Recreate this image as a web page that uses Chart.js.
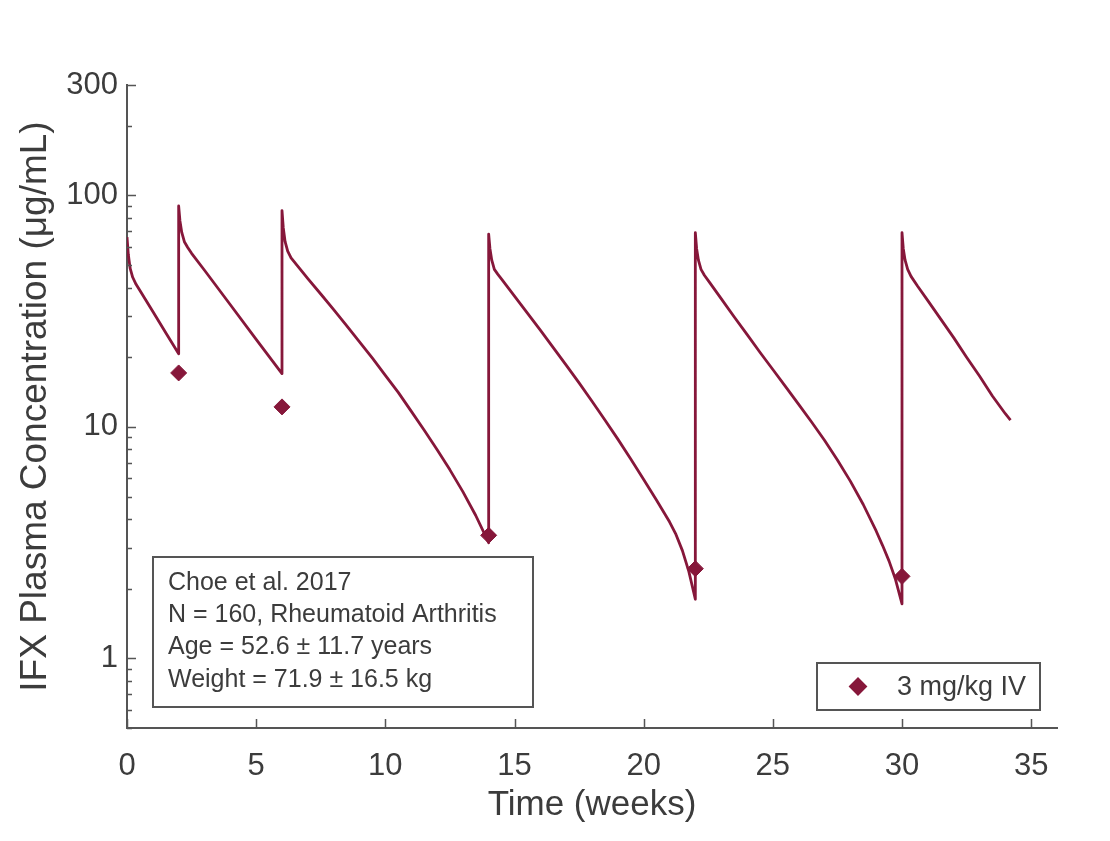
<!DOCTYPE html>
<html>
<head>
<meta charset="utf-8">
<script src="https://cdn.jsdelivr.net/npm/chart.js@4.4.1/dist/chart.umd.min.js"></script>
<style>
  body { margin: 0; background: #fff; }
  #chart { display: block; }
</style>
</head>
<body>
<canvas id="chart" width="1110" height="841"></canvas>
<script>
// model curve (weeks, ug/mL)
const curveWeeks = [0, 0.05, 0.12, 0.22, 0.35, 0.5, 1, 1.5, 2,
    2, 2.05, 2.12, 2.22, 2.35, 2.5, 3, 4, 5, 6,
    6, 6.05, 6.12, 6.22, 6.35, 6.6, 7, 7.5, 8, 8.5, 9, 9.5, 10, 10.5, 11, 11.5, 12, 12.5, 13, 13.5, 14,
    14, 14.05, 14.12, 14.22, 14.35, 14.5, 15, 15.5, 16, 16.5, 17, 17.5, 18, 18.5, 19, 19.5, 20, 20.5, 21, 21.25, 21.5, 21.75, 22,
    22, 22.05, 22.12, 22.22, 22.35, 22.55, 23, 23.5, 24, 24.5, 25, 25.5, 26, 26.5, 27, 27.5, 28, 28.5, 29, 29.25, 29.5, 29.75, 30,
    30, 30.05, 30.12, 30.22, 30.35, 30.6, 31, 31.5, 32, 32.5, 33, 33.5, 34, 34.2];
const curveConc = [66, 55.7, 48.5, 44.3, 41.3, 38.8, 31.5, 25.5, 20.7,
    90, 77.6, 69.2, 63.1, 59.6, 56.2, 47.5, 33.7, 23.9, 17,
    86, 72.4, 63.1, 57.5, 53.7, 49.6, 43.7, 37.5, 32.1, 27.4, 23.3, 19.8, 16.7, 14.1, 11.7, 9.7, 7.98, 6.52, 5.25, 4.14, 3.16,
    68, 58.9, 52.5, 47.9, 45.7, 43.5, 36.7, 31.0, 26.2, 22.0, 18.5, 15.5, 12.9, 10.7, 8.85, 7.26, 5.92, 4.82, 3.89, 3.43, 2.92, 2.37, 1.8,
    69, 58.9, 52.5, 47.9, 45.2, 42.1, 35.8, 29.9, 25.1, 21.0, 17.7, 14.9, 12.5, 10.5, 8.75, 7.19, 5.83, 4.62, 3.55, 3.07, 2.63, 2.19, 1.72,
    69, 58.9, 52.5, 47.9, 44.7, 40.6, 35.1, 29.2, 24.3, 20.0, 16.6, 13.6, 11.4, 10.7];

// observed troughs
const doseWeeks = [2, 6, 14, 22, 30];
const troughConc = [17.1, 12.2, 3.4, 2.44, 2.26];

const xTicks = [0, 5, 10, 15, 20, 25, 30, 35];
const yTickValues = [0.5, 0.6, 0.7, 0.8, 0.9, 1, 2, 3, 4, 5, 6, 7, 8, 9, 10,
    20, 30, 40, 50, 60, 70, 80, 90, 100, 200, 300];
const yTickLabels = [1, 10, 100, 300];

const infoLines = ['Choe et al. 2017', 'N = 160, Rheumatoid Arthritis',
    'Age = 52.6 \u00b1 11.7 years', 'Weight = 71.9 \u00b1 16.5 kg'];
const legendText = '3 mg/kg IV';

const red = '#86173a';
const axisColor = '#555';
const textColor = '#3c3c3c';
const family = '"Liberation Sans", Arial, Helvetica, sans-serif';

// matlab style ticks, pointing inward
const innerTicks = {
    id: 'innerTicks',
    afterDraw(chart) {
        const { ctx, chartArea, scales } = chart;
        ctx.save();
        ctx.strokeStyle = axisColor;
        ctx.lineWidth = 1.5;
        ctx.beginPath();
        scales.y.ticks.forEach((t) => {
            const y = Math.round(scales.y.getPixelForValue(t.value)) + 0.5;
            const len = yTickLabels.includes(t.value) ? 9 : 5;
            ctx.moveTo(chartArea.left, y);
            ctx.lineTo(chartArea.left + len, y);
        });
        scales.x.ticks.forEach((t) => {
            const x = Math.round(scales.x.getPixelForValue(t.value)) + 0.5;
            ctx.moveTo(x, chartArea.bottom);
            ctx.lineTo(x, chartArea.bottom - 9);
        });
        ctx.stroke();
        ctx.restore();
    }
};

const boxes = {
    id: 'boxes',
    afterDraw(chart) {
        const { ctx, chartArea } = chart;
        ctx.save();
        ctx.lineWidth = 2;
        ctx.strokeStyle = axisColor;

        // study info box
        let left = chartArea.left + 26, bottom = chartArea.bottom - 21;
        let w = 380, h = 150;
        ctx.fillStyle = '#fff';
        ctx.fillRect(left, bottom - h, w, h);
        ctx.strokeRect(left, bottom - h, w, h);
        ctx.fillStyle = textColor;
        ctx.font = '25px ' + family;
        ctx.textBaseline = 'middle';
        ctx.textAlign = 'left';
        infoLines.forEach((line, i) => {
            ctx.fillText(line, left + 15, bottom - h + 26 + i * 32.3);
        });

        // legend
        let right = chartArea.right - 17;
        bottom = chartArea.bottom - 18;
        w = 223; h = 47;
        ctx.fillStyle = '#fff';
        ctx.fillRect(right - w, bottom - h, w, h);
        ctx.strokeRect(right - w, bottom - h, w, h);
        const cy = bottom - h / 2;
        ctx.fillStyle = red;
        ctx.strokeStyle = red;
        Chart.helpers.drawPoint(ctx, { pointStyle: 'rectRot', radius: 8, borderWidth: 1 }, right - w + 41, cy);
        ctx.fillStyle = textColor;
        ctx.font = '27px ' + family;
        ctx.fillText(legendText, right - w + 80, cy + 1);
        ctx.restore();
    }
};

new Chart('chart', {
    type: 'line',
    data: {
        datasets: [
            {
                label: legendText,
                data: doseWeeks.map((t, i) => ({ x: t, y: troughConc[i] })),
                showLine: false,
                pointStyle: 'rectRot',
                pointRadius: 8,
                backgroundColor: red,
                borderColor: red,
                borderWidth: 1
            },
            {
                label: 'model',
                data: curveWeeks.map((t, i) => ({ x: t, y: curveConc[i] })),
                borderColor: red,
                borderWidth: 2.8,
                borderJoinStyle: 'round',
                pointRadius: 0,
                tension: 0,
                fill: false
            }
        ]
    },
    options: {
        responsive: false,
        animation: false,
        layout: { padding: { left: 0, top: 85, right: 53, bottom: 0 } },
        plugins: {
            legend: { display: false },
            tooltip: { enabled: false }
        },
        scales: {
            x: {
                type: 'linear',
                min: 0,
                max: 36,
                afterBuildTicks: (scale) => { scale.ticks = xTicks.map(v => ({ value: v })); },
                afterFit: (scale) => { scale.height = 113; },
                grid: { display: false, drawTicks: false },
                border: { display: true, color: axisColor, width: 2 },
                ticks: { color: textColor, font: { family: family, size: 31 }, padding: 20, maxRotation: 0 },
                title: {
                    display: true,
                    text: 'Time (weeks)',
                    color: textColor,
                    font: { family: family, size: 35 },
                    padding: { top: 0, bottom: 15 }
                }
            },
            y: {
                type: 'logarithmic',
                min: 0.5,
                max: 300,
                afterBuildTicks: (scale) => { scale.ticks = yTickValues.map(v => ({ value: v })); },
                afterFit: (scale) => { scale.width = 127; },
                grid: { display: false, drawTicks: false },
                border: { display: true, color: axisColor, width: 2 },
                ticks: {
                    autoSkip: false,
                    color: textColor,
                    font: { family: family, size: 31 },
                    padding: 9,
                    callback: (v) => yTickLabels.includes(v) ? String(v) : ''
                },
                title: {
                    display: true,
                    text: 'IFX Plasma Concentration (\u03bcg/mL)',
                    color: textColor,
                    font: { family: family, size: 37 },
                    padding: { top: 14, bottom: 0 }
                }
            }
        }
    },
    plugins: [innerTicks, boxes]
});
</script>
</body>
</html>
